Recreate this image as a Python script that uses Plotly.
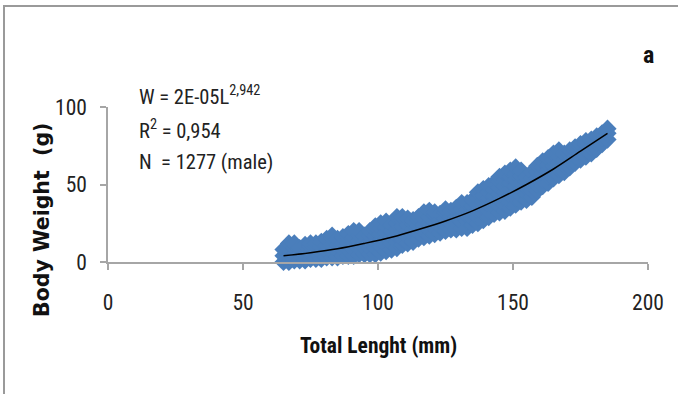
import plotly.graph_objects as go

# Total length columns (mm) and the body weights (g) read for each column
column_length_mm = [65, 67, 69, 71, 73, 75, 77, 79, 81, 83, 85, 87, 89, 91, 93, 95, 97, 99,
                    101, 103, 105, 107, 109, 111, 113, 115, 117, 119, 121, 123, 125, 127, 129,
                    131, 133, 135, 137, 139, 141, 143, 145, 147, 149, 151, 153, 155, 157, 159,
                    161, 163, 165, 167, 169, 171, 173, 175, 177, 179, 181, 183, 185]
column_weights_g = [
    [0, 4, 8], [0, 4, 8, 12], [1, 5, 9, 12], [1, 5, 9], [1, 5, 9, 11],
    [2, 6, 10, 12], [2, 6, 10, 12], [2, 6, 10, 13], [3, 7, 11, 15], [3, 7, 11, 15, 17],
    [3, 7, 11, 15], [4, 8, 12, 16], [4, 8, 12, 16, 18], [4, 8, 12, 16, 20], [5, 9, 13, 17, 20],
    [5, 9, 13, 17], [5, 9, 13, 17, 20], [5, 9, 13, 17, 21, 23],
    [6, 10, 14, 18, 22, 25], [7, 11, 15, 19, 23, 26], [8, 12, 16, 20, 24],
    [9, 13, 17, 21, 25, 29], [11, 15, 19, 23, 27, 29], [12, 16, 20, 24, 28],
    [13, 17, 21, 25, 27], [15, 19, 23, 27, 29], [16, 20, 24, 28, 32], [17, 21, 25, 29, 33],
    [18, 22, 26, 30, 32], [19, 23, 27, 31], [20, 24, 28, 32, 34], [21, 25, 29, 33],
    [21, 25, 29, 33, 35], [22, 26, 30, 34, 38], [22, 26, 30, 34, 38], [24, 28, 32, 36, 40],
    [25, 29, 33, 37, 41, 45], [27, 31, 35, 39, 43, 47], [29, 33, 37, 41, 45, 49],
    [31, 35, 39, 43, 47, 51], [32, 36, 40, 44, 48, 52, 55], [33, 37, 41, 45, 49, 53, 57],
    [35, 39, 43, 47, 51, 55, 59], [37, 41, 45, 49, 53, 57, 61], [39, 43, 47, 51, 55, 59],
    [40, 44, 48, 52, 55], [42, 46, 50, 54, 58], [46, 50, 54, 58, 62], [49, 53, 57, 61, 65],
    [51, 55, 59, 63, 67], [54, 58, 62, 66, 70], [56, 60, 64, 68, 72], [58, 62, 66, 70],
    [61, 65, 69, 72], [64, 68, 72, 74], [66, 70, 74, 76], [68, 72, 76, 78], [70, 74, 78, 79],
    [73, 77, 81], [76, 80, 83], [79, 83, 86],
]

# Power trend line
trend_length_mm = [65, 75, 85, 95, 105, 115, 125, 135, 145, 155, 165, 175, 185]
trend_weight_g = [4, 6, 8.5, 12, 16, 21, 26.5, 33, 41, 50, 60, 71.5, 83]

x_ticks = [0, 50, 100, 150, 200]
y_ticks = [0, 50, 100]

length_mm = []
weight_g = []
for L, ws in zip(column_length_mm, column_weights_g):
    for w in ws:
        length_mm.append(L)
        weight_g.append(w)

NARROW = "Roboto Condensed, Liberation Sans Narrow, Arial Narrow, Roboto, sans-serif"
AX = "#a6a6a6"

fig = go.Figure()
fig.add_trace(go.Scatter(
    x=length_mm, y=weight_g, mode="markers",
    marker=dict(symbol="diamond", size=14, color="#4a7ebb", line=dict(width=0)),
    cliponaxis=False, hoverinfo="skip", showlegend=False,
))
fig.add_trace(go.Scatter(
    x=trend_length_mm, y=trend_weight_g, mode="lines",
    line=dict(color="black", width=1.5, shape="spline"),
    cliponaxis=False, hoverinfo="skip", showlegend=False,
))

L, R, T, B = 108, 30, 107, 132
W, H = 678, 394
pw, ph = W - L - R, H - T - B


def px(x):
    return (x - L) / pw


def py(y):
    return (H - B - y) / ph


fig.update_layout(
    width=W, height=H,
    margin=dict(l=L, r=R, t=T, b=B, pad=0),
    paper_bgcolor="white", plot_bgcolor="white",
    xaxis=dict(range=[0, 200], tickvals=x_ticks, showgrid=False, zeroline=False,
               showline=True, linecolor=AX, linewidth=1.5, ticks="outside",
               ticklen=6, tickcolor=AX, tickwidth=1.5,
               tickfont=dict(family=NARROW, size=21.5, color="#222"),
               ticklabelstandoff=14),
    yaxis=dict(range=[0, 100], tickvals=y_ticks, showgrid=False, zeroline=False,
               showline=True, linecolor=AX, linewidth=1.5, ticks="outside",
               ticklen=6, tickcolor=AX, tickwidth=1.5,
               tickfont=dict(family=NARROW, size=21.5, color="#222"),
               ticklabelstandoff=9),
    shapes=[dict(type="rect", xref="paper", yref="paper",
                 x0=px(4), x1=px(720), y0=py(440), y1=py(6),
                 line=dict(color="#9a9a9a", width=2), layer="below")],
    annotations=[
        dict(text="W = 2E-05L<sup>2,942</sup>", xref="paper", yref="paper",
             x=px(137), y=py(95), xanchor="left", yanchor="middle", showarrow=False,
             font=dict(family=NARROW, size=20.5, color="#222")),
        dict(text="R<sup>2</sup> = 0,954", xref="paper", yref="paper",
             x=px(137), y=py(129), xanchor="left", yanchor="middle", showarrow=False,
             font=dict(family=NARROW, size=20.5, color="#222")),
        dict(text="N  = 1277 (male)", xref="paper", yref="paper",
             x=px(137), y=py(162), xanchor="left", yanchor="middle", showarrow=False,
             font=dict(family=NARROW, size=20.5, color="#222")),
        dict(text="<b>Total Lenght (mm)</b>", xref="paper", yref="paper",
             x=px(378), y=py(345), xanchor="center", yanchor="middle", showarrow=False,
             font=dict(family=NARROW, size=21.5, color="#111")),
        dict(text="<b>Body Weight&nbsp;&nbsp;(g)</b>", xref="paper", yref="paper",
             x=px(42), y=py(220), xanchor="center", yanchor="middle", showarrow=False,
             textangle=-90, font=dict(family="DejaVu Sans", size=20.5, color="#111")),
        dict(text="<b>a</b>", xref="paper", yref="paper",
             x=px(648), y=py(55), xanchor="center", yanchor="middle", showarrow=False,
             font=dict(family=NARROW, size=24, color="#111")),
    ],
)

fig.write_html("out.html", config={"displayModeBar": False},
               post_script="document.body.style.margin='0';")
